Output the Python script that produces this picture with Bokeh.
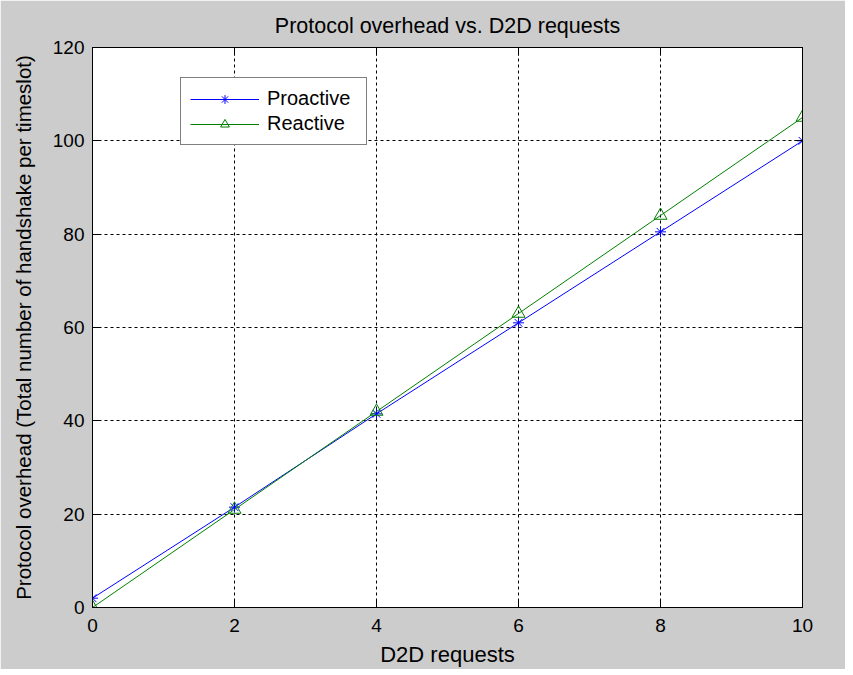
from bokeh.plotting import figure
from bokeh.models import (Range1d, LinearAxis, FixedTicker, Legend, LegendItem)
from bokeh.embed import file_html
from bokeh.resources import INLINE

# ---- data ----
d2d_requests = [0, 2, 4, 6, 8, 10]
proactive = [2, 21.5, 41.5, 61, 80.5, 100]
reactive = [0, 21, 42, 63, 84, 105]
x_ticks = [0, 2, 4, 6, 8, 10]
y_ticks = [0, 20, 40, 60, 80, 100, 120]

title_text = "Protocol overhead vs. D2D requests"
x_label = "D2D requests"
y_label = "Protocol overhead (Total number of handshake per timeslot)"

FONT = "Liberation Sans"
GRAY = "#cccccc"

p = figure(width=845, height=669, output_backend="svg", toolbar_location=None,
           x_range=Range1d(0, 10), y_range=Range1d(0, 120),
           min_border_left=92, min_border_right=43, min_border_top=47, min_border_bottom=60,
           background_fill_color="white", border_fill_color=GRAY)
p.outline_line_color = "black"
p.outline_line_width = 1

p.title.text = title_text
p.title.align = "center"
p.title.text_font = FONT
p.title.text_font_size = "21.5px"
p.title.text_font_style = "normal"
p.title.text_color = "black"
p.title.offset = 0
p.title.standoff = 19

def style_axis(ax, ticks):
    ax.ticker = FixedTicker(ticks=ticks)
    ax.axis_line_color = "black"
    ax.major_tick_line_color = "black"
    ax.major_tick_in = 8
    ax.major_tick_out = 0
    ax.minor_tick_line_color = None
    ax.major_label_text_font = FONT
    ax.major_label_text_font_size = "19px"
    ax.major_label_text_font_style = "normal"
    ax.major_label_text_color = "black"
    ax.axis_label_text_font = FONT
    ax.axis_label_text_font_size = "20.5px"
    ax.axis_label_text_font_style = "normal"
    ax.axis_label_text_color = "black"

style_axis(p.xaxis[0], x_ticks)
style_axis(p.yaxis[0], y_ticks)
p.xaxis[0].axis_label = x_label
p.yaxis[0].axis_label = y_label
p.xaxis[0].axis_label_text_font_size = "22px"
p.xaxis[0].major_label_standoff = 11
p.yaxis[0].major_label_standoff = 8
p.xaxis[0].axis_label_standoff = 7
p.yaxis[0].axis_label_standoff = 15

top = LinearAxis()
right = LinearAxis()
style_axis(top, x_ticks)
style_axis(right, y_ticks)
top.major_label_overrides = {t: "" for t in x_ticks}
right.major_label_overrides = {t: "" for t in y_ticks}
top.major_label_standoff = 0
right.major_label_standoff = 0
p.add_layout(top, "above")
p.add_layout(right, "right")

p.xgrid.ticker = FixedTicker(ticks=x_ticks)
p.ygrid.ticker = FixedTicker(ticks=y_ticks)
for g in (p.xgrid, p.ygrid):
    g.grid_line_color = "black"
    g.grid_line_dash = "3 3"
    g.grid_line_width = 1

l1 = p.line(d2d_requests, proactive, line_color="#0000ff", line_width=1)
s1 = p.scatter(d2d_requests, proactive, marker="asterisk", size=11,
               line_color="#0000ff", line_width=1)
l2 = p.line(d2d_requests, reactive, line_color="#008000", line_width=1)
s2 = p.scatter(d2d_requests, reactive, marker="triangle", size=13,
               line_color="#008000", fill_color=None, line_width=1)

legend = Legend(items=[LegendItem(label="Proactive", renderers=[l1, s1]),
                       LegendItem(label="Reactive", renderers=[l2, s2])],
                location=(88, 462), orientation="vertical")
legend.border_line_color = "black"
legend.border_line_width = 1
legend.background_fill_color = "white"
legend.background_fill_alpha = 1
legend.label_text_font = FONT
legend.label_text_font_size = "20px"
legend.label_text_color = "black"
legend.padding = 9
legend.margin = 0
legend.spacing = 2
legend.glyph_width = 69
legend.glyph_height = 22
legend.label_standoff = 8
legend.label_width = 90
legend.label_height = 22
p.add_layout(legend, "center")

open("out.html", "w").write(file_html(p, INLINE))
